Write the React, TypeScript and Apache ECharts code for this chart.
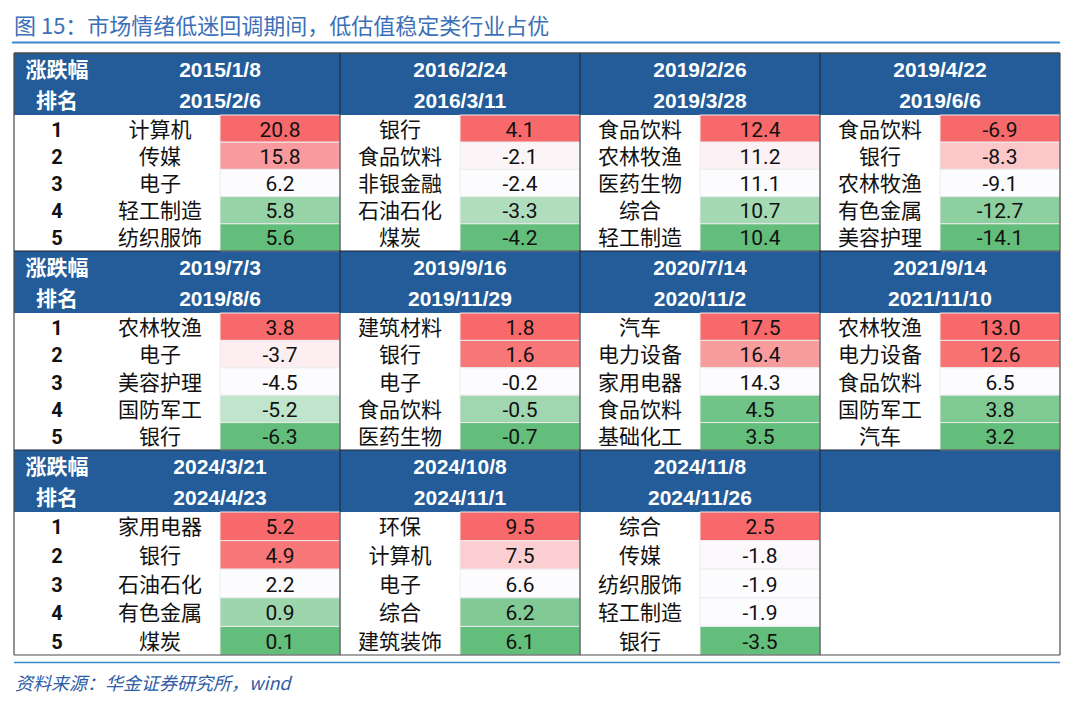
import React, { useEffect, useRef } from 'react';
import * as echarts from 'echarts';

// ---------- texts ----------
const titleText = '图 15：市场情绪低迷回调期间，低估值稳定类行业占优';
const sourceText = '资料来源：华金证券研究所，wind';
const rankHeaderTop = '涨跌幅';
const rankHeaderBottom = '排名';

// ---------- data ----------
const ranks = [1, 2, 3, 4, 5];

const periodStarts = ['2015/1/8', '2016/2/24', '2019/2/26', '2019/4/22', '2019/7/3', '2019/9/16', '2020/7/14', '2021/9/14', '2024/3/21', '2024/10/8', '2024/11/8'];
const periodEnds = ['2015/2/6', '2016/3/11', '2019/3/28', '2019/6/6', '2019/8/6', '2019/11/29', '2020/11/2', '2021/11/10', '2024/4/23', '2024/11/1', '2024/11/26'];

const industries = [
  ['计算机', '传媒', '电子', '轻工制造', '纺织服饰'],
  ['银行', '食品饮料', '非银金融', '石油石化', '煤炭'],
  ['食品饮料', '农林牧渔', '医药生物', '综合', '轻工制造'],
  ['食品饮料', '银行', '农林牧渔', '有色金属', '美容护理'],
  ['农林牧渔', '电子', '美容护理', '国防军工', '银行'],
  ['建筑材料', '银行', '电子', '食品饮料', '医药生物'],
  ['汽车', '电力设备', '家用电器', '食品饮料', '基础化工'],
  ['农林牧渔', '电力设备', '食品饮料', '国防军工', '汽车'],
  ['家用电器', '银行', '石油石化', '有色金属', '煤炭'],
  ['环保', '计算机', '电子', '综合', '建筑装饰'],
  ['综合', '传媒', '纺织服饰', '轻工制造', '银行'],
];

const returns = [
  [20.8, 15.8, 6.2, 5.8, 5.6],
  [4.1, -2.1, -2.4, -3.3, -4.2],
  [12.4, 11.2, 11.1, 10.7, 10.4],
  [-6.9, -8.3, -9.1, -12.7, -14.1],
  [3.8, -3.7, -4.5, -5.2, -6.3],
  [1.8, 1.6, -0.2, -0.5, -0.7],
  [17.5, 16.4, 14.3, 4.5, 3.5],
  [13.0, 12.6, 6.5, 3.8, 3.2],
  [5.2, 4.9, 2.2, 0.9, 0.1],
  [9.5, 7.5, 6.6, 6.2, 6.1],
  [2.5, -1.8, -1.9, -1.9, -3.5],
];

// ---------- layout (table units) ----------
const GROUPS_PER_BAND = 4;
const colWidths = [86, 120, 120, 120, 120, 120, 120, 120, 120];
const headerRowHeights = [31, 31];
const bandRowHeights = [27.2, 27.4, 28.6];

const colEdges: number[] = [0];
colWidths.forEach((w, i) => colEdges.push(colEdges[i] + w));
const tableWidth = colEdges[colEdges.length - 1];
const headerHeight = headerRowHeights[0] + headerRowHeights[1];
const bandCount = Math.ceil(periodStarts.length / GROUPS_PER_BAND);
const bandTops: number[] = [0];
for (let b = 0; b < bandCount; b++) {
  bandTops.push(bandTops[b] + headerHeight + ranks.length * bandRowHeights[b]);
}
const tableHeight = bandTops[bandCount];

const HEADER_BG = '#235C98';
const LINE_DARK = '#1E2530';
const BORDER = '#4A4A4A';
const BODY_FONT = 'Roboto, "Noto Sans CJK SC", sans-serif';
const HEAD_FONT = '"Liberation Sans", Arial, "Noto Sans CJK SC", sans-serif';
const TEXT_COLOR = '#111111';
const HEAD_SIZE = 21;

// position of a value on each period's three-colour scale (min -> median -> max)
function scalePosition(values: number[], v: number): number {
  const s = [...values].sort((a, b) => a - b);
  const min = s[0];
  const max = s[s.length - 1];
  const med = s[Math.floor(s.length / 2)];
  if (v >= med) return max === med ? 0 : (v - med) / (max - med);
  return med === min ? 0 : -(med - v) / (med - min);
}

function rowTop(band: number, r: number) {
  return bandTops[band] + headerHeight + r * bandRowHeights[band];
}

function toPx(api: any, x0: number, y0: number, x1: number, y1: number) {
  const p0 = api.coord([x0, y0]);
  const p1 = api.coord([x1, y1]);
  return {
    x: Math.min(p0[0], p1[0]),
    y: Math.min(p0[1], p1[1]),
    width: Math.abs(p1[0] - p0[0]),
    height: Math.abs(p1[1] - p0[1]),
  };
}

function textEl(text: string, x: number, y: number, size: number, color: string, weight: string, family: string) {
  return {
    type: 'text',
    style: {
      text,
      x,
      y,
      align: 'center',
      verticalAlign: 'middle',
      textAlign: 'center',
      textVerticalAlign: 'middle',
      fill: color,
      fontSize: size,
      fontWeight: weight,
      fontFamily: family,
    },
  };
}

export default function App() {
  const ref = useRef<HTMLDivElement>(null);

  useEffect(() => {
    if (!ref.current) return;
    const chart = echarts.init(ref.current, null, { renderer: 'svg' });

    const bandData = Array.from({ length: bandCount }, (_, b) => [b, b]);
    const periodData = periodStarts.map((_, p) => [p, p]);
    const rankData: number[][] = [];
    for (let b = 0; b < bandCount; b++) ranks.forEach((rk, r) => rankData.push([b, r, rk]));
    const cellData: number[][] = [];
    returns.forEach((vals, p) => {
      vals.forEach((v, r) => cellData.push([p, r, v, scalePosition(vals, v)]));
    });

    const option: any = {
      animation: false,
      backgroundColor: '#ffffff',
      grid: { left: 14, top: 53, width: tableWidth, height: tableHeight, containLabel: false },
      xAxis: { type: 'value', min: 0, max: tableWidth, show: false },
      yAxis: { type: 'value', min: 0, max: tableHeight, inverse: true, show: false },
      visualMap: {
        type: 'continuous',
        show: false,
        seriesIndex: 4,
        dimension: 3,
        min: -1,
        max: 1,
        inRange: { color: ['#63BE7B', '#FCFCFF', '#F8696B'] },
      },
      graphic: [
        {
          type: 'text',
          left: 14,
          top: 13,
          style: {
            text: titleText,
            fill: '#3C70B8',
            fontSize: 22,
            fontFamily: '"Noto Sans CJK SC", sans-serif',
            fontWeight: 'normal',
          },
        },
        {
          type: 'line',
          shape: { x1: 12, y1: 42.5, x2: 1060, y2: 42.5 },
          style: { stroke: '#3B87CC', lineWidth: 2 },
        },
        {
          type: 'line',
          shape: { x1: 14, y1: 662.5, x2: 1060, y2: 662.5 },
          style: { stroke: '#3B87CC', lineWidth: 1.5 },
        },
        {
          type: 'text',
          left: 15,
          top: 673,
          style: {
            text: sourceText,
            fill: '#2F5CA6',
            fontSize: 18,
            fontStyle: 'italic',
            fontFamily: '"Noto Sans CJK SC", sans-serif',
          },
        },
      ],
      series: [
        // 0: header background per band
        {
          type: 'custom',
          z: 1,
          data: bandData,
          renderItem: (params: any, api: any) => {
            const b = api.value(0);
            const rect = toPx(api, 0, bandTops[b], tableWidth, bandTops[b] + headerHeight);
            return { type: 'rect', shape: rect, style: { fill: HEADER_BG } };
          },
        },
        // 1: rank column header texts
        {
          type: 'custom',
          z: 3,
          data: bandData,
          renderItem: (params: any, api: any) => {
            const b = api.value(0);
            const cx = (colEdges[0] + colEdges[1]) / 2;
            const a = api.coord([cx, bandTops[b] + headerRowHeights[0] / 2 + 1]);
            const c = api.coord([cx, bandTops[b] + headerRowHeights[0] + headerRowHeights[1] / 2 + 1]);
            return {
              type: 'group',
              children: [
                textEl(rankHeaderTop, a[0], a[1], HEAD_SIZE, '#ffffff', 'bold', HEAD_FONT),
                textEl(rankHeaderBottom, c[0], c[1], HEAD_SIZE, '#ffffff', 'bold', HEAD_FONT),
              ],
            };
          },
        },
        // 2: period header texts
        {
          type: 'custom',
          z: 3,
          data: periodData,
          renderItem: (params: any, api: any) => {
            const p = api.value(0);
            const b = Math.floor(p / GROUPS_PER_BAND);
            const g = p % GROUPS_PER_BAND;
            const cx = (colEdges[1 + 2 * g] + colEdges[3 + 2 * g]) / 2;
            const a = api.coord([cx, bandTops[b] + headerRowHeights[0] / 2 + 1]);
            const c = api.coord([cx, bandTops[b] + headerRowHeights[0] + headerRowHeights[1] / 2 + 1]);
            return {
              type: 'group',
              children: [
                textEl(periodStarts[p], a[0], a[1], HEAD_SIZE, '#ffffff', 'bold', HEAD_FONT),
                textEl(periodEnds[p], c[0], c[1], HEAD_SIZE, '#ffffff', 'bold', HEAD_FONT),
              ],
            };
          },
        },
        // 3: rank numbers
        {
          type: 'custom',
          z: 3,
          data: rankData,
          renderItem: (params: any, api: any) => {
            const b = api.value(0);
            const r = api.value(1);
            const rk = api.value(2);
            const y0 = rowTop(b, r);
            const rect = toPx(api, colEdges[0], y0, colEdges[1], y0 + bandRowHeights[b]);
            return textEl(String(rk), rect.x + rect.width / 2, rect.y + rect.height / 2 + 1, 20, TEXT_COLOR, 'bold', BODY_FONT);
          },
        },
        // 4: industry names and coloured return cells
        {
          type: 'custom',
          z: 2,
          data: cellData,
          renderItem: (params: any, api: any) => {
            const p = api.value(0);
            const r = api.value(1);
            const v = api.value(2);
            const b = Math.floor(p / GROUPS_PER_BAND);
            const g = p % GROUPS_PER_BAND;
            const y0 = rowTop(b, r);
            const y1 = y0 + bandRowHeights[b];
            const nameRect = toPx(api, colEdges[1 + 2 * g], y0, colEdges[2 + 2 * g], y1);
            const valRect = toPx(api, colEdges[2 + 2 * g], y0, colEdges[3 + 2 * g], y1);
            return {
              type: 'group',
              children: [
                {
                  type: 'rect',
                  shape: valRect,
                  style: { fill: api.visual('color'), stroke: '#ECECEC', lineWidth: 1 },
                },
                textEl(industries[p][r], nameRect.x + nameRect.width / 2, nameRect.y + nameRect.height / 2 + 1, 21, TEXT_COLOR, 'normal', BODY_FONT),
                textEl(Number(v).toFixed(1), valRect.x + valRect.width / 2, valRect.y + valRect.height / 2 + 1, 21, TEXT_COLOR, 'normal', BODY_FONT),
              ],
            };
          },
        },
        // 5: table lines per band
        {
          type: 'custom',
          z: 5,
          data: bandData,
          renderItem: (params: any, api: any) => {
            const b = api.value(0);
            const top = api.coord([0, bandTops[b]]);
            const bottom = api.coord([tableWidth, bandTops[b + 1]]);
            const children: any[] = [];
            children.push({
              type: 'line',
              shape: { x1: top[0], y1: top[1], x2: bottom[0], y2: top[1] },
              style: { stroke: b === 0 ? BORDER : LINE_DARK, lineWidth: b === 0 ? 1.5 : 1 },
            });
            for (let g = 1; g < GROUPS_PER_BAND; g++) {
              const x = api.coord([colEdges[1 + 2 * g], 0])[0];
              children.push({
                type: 'line',
                shape: { x1: x, y1: top[1], x2: x, y2: bottom[1] },
                style: { stroke: LINE_DARK, lineWidth: 1 },
              });
            }
            children.push({
              type: 'line',
              shape: { x1: top[0], y1: top[1], x2: top[0], y2: bottom[1] },
              style: { stroke: BORDER, lineWidth: 1.2 },
            });
            children.push({
              type: 'line',
              shape: { x1: bottom[0], y1: top[1], x2: bottom[0], y2: bottom[1] },
              style: { stroke: BORDER, lineWidth: 1.2 },
            });
            if (b === bandCount - 1) {
              children.push({
                type: 'line',
                shape: { x1: top[0], y1: bottom[1], x2: bottom[0], y2: bottom[1] },
                style: { stroke: BORDER, lineWidth: 1.2 },
              });
            }
            return { type: 'group', children };
          },
        },
      ],
    };

    chart.setOption(option);
    return () => {
      chart.dispose();
    };
  }, []);

  return (
    <div
      ref={ref}
      style={{ position: 'absolute', left: 0, top: 0, width: 1080, height: 703, background: '#ffffff' }}
    />
  );
}
